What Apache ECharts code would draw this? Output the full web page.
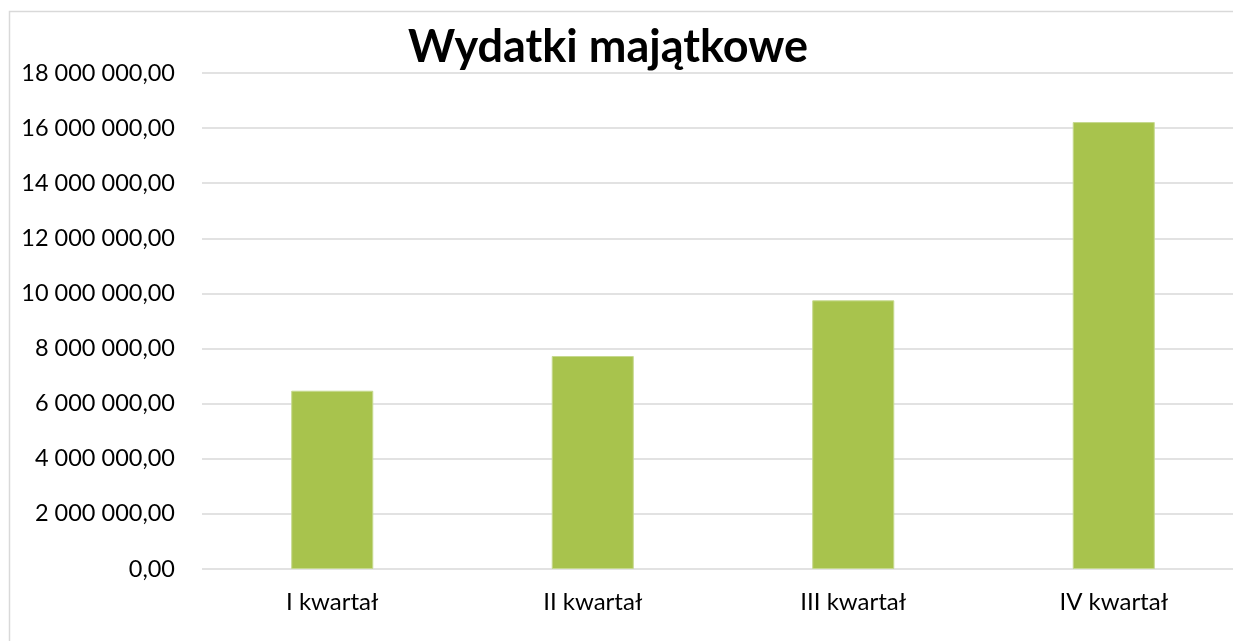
<!DOCTYPE html>
<html>
<head>
<meta charset="utf-8">
<script src="https://cdn.jsdelivr.net/npm/echarts@6/dist/echarts.min.js"></script>
<style>
  html, body { margin: 0; padding: 0; background: #fff; }
  #chart { width: 1233px; height: 641px; }
</style>
</head>
<body>
<div id="chart"></div>
<script>
// dane wykresu
const categories = ['I kwartał', 'II kwartał', 'III kwartał', 'IV kwartał'];
const values = [6470000, 7730000, 9750000, 16220000];
const yMin = 0, yMax = 18000000, yStep = 2000000;

// 18000000 -> "18 000 000,00"
function fmt(v) {
    const parts = v.toFixed(2).split('.');
    return parts[0].replace(/\B(?=(\d{3})+(?!\d))/g, ' ') + ',' + parts[1];
}

const chart = echarts.init(document.getElementById('chart'));
chart.setOption({
    animation: false,
    backgroundColor: '#fff',
    textStyle: { fontFamily: 'Lato' },
    title: {
        text: 'Wydatki majątkowe',
        left: 603,
        textAlign: 'center',
        top: 20,
        textStyle: { fontSize: 45, fontWeight: 'bold', color: '#000', fontFamily: 'Lato' }
    },
    graphic: [{
        type: 'rect',
        left: 7, top: 9,
        shape: { width: 1260, height: 660 },
        style: { fill: 'none', stroke: '#d9d9d9', lineWidth: 1.5 },
        silent: true
    }],
    grid: {
        left: 202, width: 1042, top: 73, bottom: 72,
        containLabel: false, outerBoundsMode: 'none'
    },
    xAxis: {
        type: 'category',
        data: categories,
        axisLine: { show: false },
        axisTick: { show: false },
        axisLabel: { color: '#000', fontSize: 24, margin: 21 }
    },
    yAxis: {
        type: 'value',
        min: yMin, max: yMax, interval: yStep,
        axisLine: { show: false },
        axisTick: { show: false },
        axisLabel: { color: '#000', fontSize: 23.5, margin: 27, formatter: fmt },
        splitLine: { lineStyle: { color: '#d9d9d9', width: 1.5 } }
    },
    series: [{
        type: 'bar',
        data: values,
        barWidth: '31.5%',
        itemStyle: { color: '#a8c34d', borderColor: '#c6d98f', borderWidth: 1 }
    }]
});
</script>
</body>
</html>
